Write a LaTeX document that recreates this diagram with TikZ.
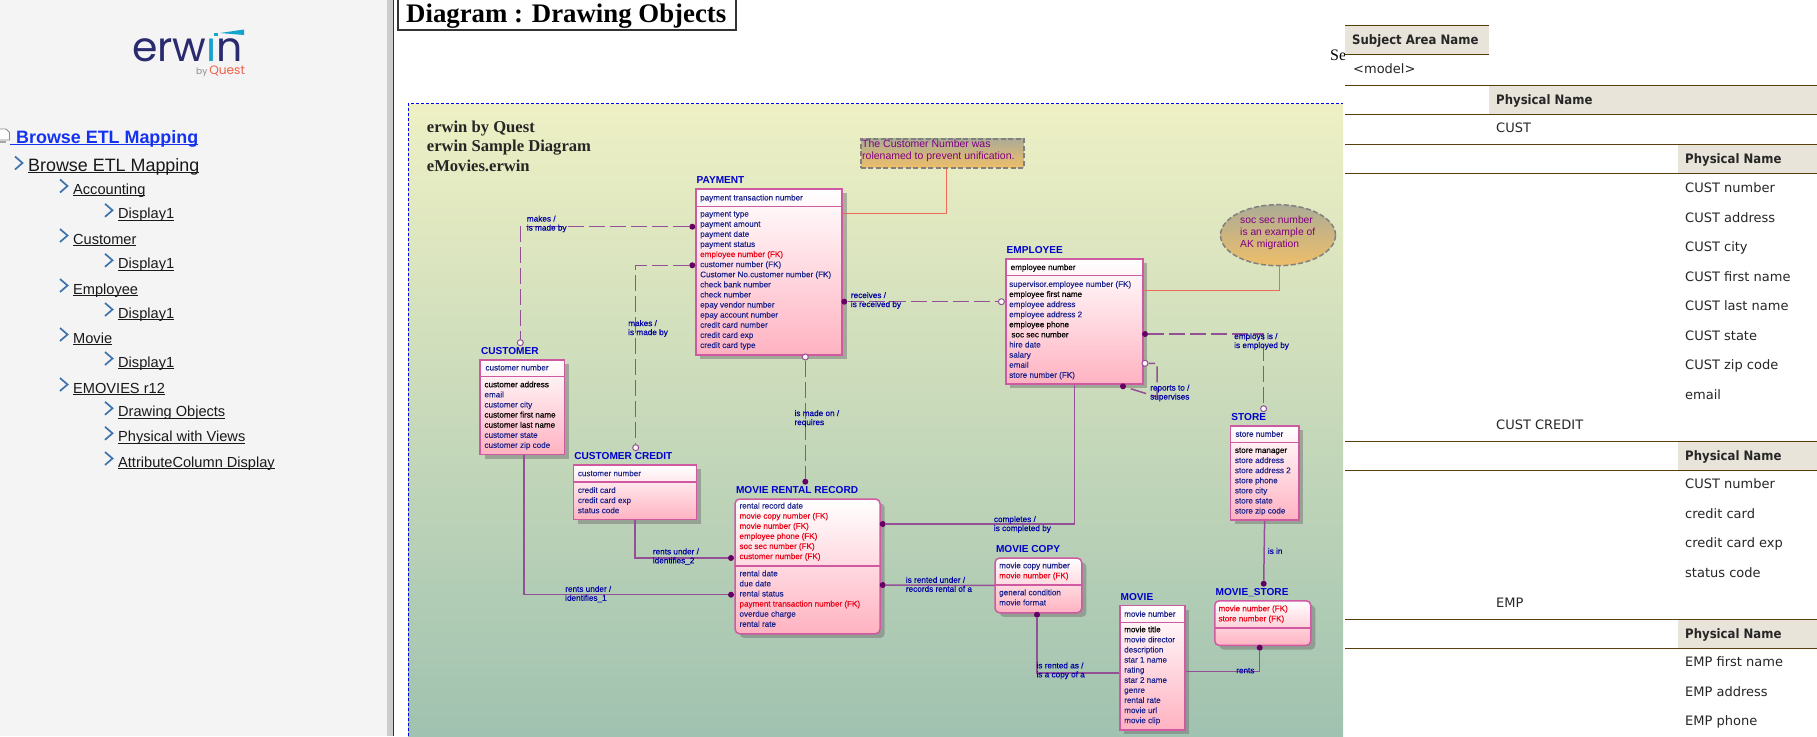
\documentclass[tikz,border=0pt]{standalone}
\usepackage{fontspec}
\usetikzlibrary{arrows.meta,positioning,shadows,shapes.geometric}
\setmainfont{Liberation Sans}
\newfontfamily\serifbold{Liberation Serif}
\newfontfamily\erfont[FakeBold=0.22]{Liberation Sans}
\newfontfamily\tablefont[BoldFeatures={FakeStretch=0.9}]{DejaVu Sans}
\newfontfamily\logofont{Poppins}
\definecolor{panelgray}{RGB}{244,244,244}
\definecolor{barGray}{RGB}{204,204,204}
\definecolor{linkblue}{RGB}{20,50,240}
\definecolor{chevblue}{RGB}{60,115,175}
\definecolor{erwinnavy}{RGB}{42,42,110}
\definecolor{erwincyan}{RGB}{20,165,205}
\definecolor{questred}{RGB}{240,95,70}
\definecolor{bgtop}{RGB}{238,240,196}
\definecolor{bgmid}{RGB}{205,220,187}
\definecolor{bgbot}{RGB}{160,194,176}
\definecolor{entline}{RGB}{208,90,162}
\definecolor{entpink}{RGB}{255,178,193}
\definecolor{relline}{RGB}{148,80,150}
\definecolor{reldot}{RGB}{100,0,100}
\definecolor{attrblue}{RGB}{25,35,140}
\definecolor{fkred}{RGB}{235,0,20}
\definecolor{titleblue}{RGB}{0,0,205}
\definecolor{labelblue}{RGB}{0,0,165}
\definecolor{noteline}{RGB}{240,105,85}
\definecolor{notetop}{RGB}{172,172,150}
\definecolor{notebot}{RGB}{238,190,105}
\definecolor{notetext}{RGB}{128,0,128}
\definecolor{headfill}{RGB}{233,228,217}
\definecolor{rulebrown}{RGB}{90,62,14}
\newcommand{\fk}[1]{\textcolor{fkred}{#1}}
\newcommand{\nk}[1]{\textcolor{black}{#1}}
\newcommand{\linktext}[1]{\setbox0\hbox{#1}\rlap{\rule[-1.7pt]{\wd0}{.9pt}}\box0}
\newcommand{\treeitem}[4]{%
  \node[treetext] (#1) at (#2,#3) {\linktext{#4}};
  \draw[chev] ([shift={(-13,-15)}]#1.base west) -- ++(7.5,6.5) -- ++(-7.5,6.5);}
\begin{document}
\begin{tikzpicture}[x=1pt,y=-1pt,
  treetext/.style={anchor=base west,inner sep=0pt,text=black!90,font=\fontsize{14.6}{17}\selectfont},
  chev/.style={draw=chevblue,line width=1.7pt},
  entity/.style={anchor=north west,draw=entline,line width=1.5pt,top color=white,bottom color=entpink,
    inner sep=0pt,drop shadow={shadow xshift=4.6pt,shadow yshift=-4.2pt,fill=black!55,opacity=.5}},
  rentity/.style={entity,rounded corners=4.5pt},
  split/.style={draw=entline,line width=1.4pt},
  etitle/.style={inner sep=0pt,text height=7.2pt,text depth=0pt,text=titleblue,font=\fontsize{10.1}{12}\selectfont\bfseries},
  attr/.style={anchor=north west,inner sep=0pt,yshift=-1.2pt,align=left,text=attrblue,execute at begin node=\strut,
    font=\erfont\fontsize{8.1}{10.1}\selectfont},
  rel/.style={draw=relline,line width=1.5pt},
  nonid/.style={rel,dash pattern=on 16pt off 5pt},
  onedot/.style={circle,fill=reldot,inner sep=0pt,minimum size=6pt},
  zerodot/.style={circle,draw=relline,fill=white!90!pink,line width=1pt,inner sep=0pt,minimum size=6pt},
  rlabel/.style={anchor=north west,inner sep=0pt,yshift=-.9pt,align=left,text=labelblue,execute at begin node=\strut,
    font=\erfont\fontsize{8.2}{9}\selectfont},
  notepen/.style={draw=noteline,line width=1.7pt},
  thead/.style={anchor=north west,fill=headfill,inner sep=0pt,minimum height=29pt},
  ttext/.style={anchor=west,inner sep=0pt,yshift=-1pt,text height=10pt,text depth=3pt,text=black!85,font=\tablefont\fontsize{13}{16}\selectfont},
  tbold/.style={ttext,font=\tablefont\fontsize{13}{16}\selectfont\bfseries},
  trule/.style={draw=rulebrown,line width=.9pt}
]
\useasboundingbox (0,0) rectangle (1817,736);
\fill[white] (0,0) rectangle (1817,736);
% left panel
\fill[panelgray] (0,0) rectangle (387,736);
\fill[barGray] (387,0) rectangle (392.5,736);
\draw[black!80,line width=1.2pt] (393.2,0) -- (393.2,736);
\node[anchor=base west,inner sep=0pt,font=\logofont\fontsize{41}{41}\selectfont] (logo) at (132,61)
  {\textcolor{erwinnavy}{erw}\textcolor{erwincyan}{\i}\textcolor{erwinnavy}{n}};
\fill[erwincyan] (213.5,32.5) rectangle (218,36);
\fill[erwincyan] (220,33) -- (244,29.5) -- (244,35) -- cycle;
\node[anchor=base west,inner sep=0pt,text=black!45,font=\logofont\fontsize{9}{9}\selectfont] (logoby) at (196,74) {by};
\node[inner sep=0pt,text=questred,font=\logofont\fontsize{12.2}{12}\selectfont,right=1.5pt of logoby.base east,anchor=base west] (logoq) {Quest};
% page icon
\draw[black!45,fill=white,line width=.8pt] (-1,129) -- (6,129) -- (9.5,132.5) -- (9.5,140) -- (-1,140) -- cycle;
\fill[black!35] (-1,140.5) rectangle (6,143);
\node[treetext,text=linkblue,font=\fontsize{17.9}{20}\selectfont\bfseries] (browsetop) at (10,143.3) {\linktext{\hspace{6pt}Browse ETL Mapping}};
\node[treetext,font=\fontsize{17.9}{20}\selectfont] (browse) at (28,171.3) {\linktext{Browse ETL Mapping}};
\draw[chev] (15,156.5) -- ++(7.5,6.5) -- ++(-7.5,6.5);
\treeitem{acct}{73}{194.5}{Accounting}
\treeitem{acctd}{118}{218.8}{Display1}
\treeitem{cust}{73}{244}{Customer}
\treeitem{custd}{118}{268.8}{Display1}
\treeitem{empl}{73}{294}{Employee}
\treeitem{empld}{118}{318}{Display1}
\treeitem{movi}{73}{343}{Movie}
\treeitem{movid}{118}{367}{Display1}
\treeitem{emov}{73}{393}{EMOVIES r12}
\treeitem{draw}{118}{416.8}{Drawing Objects}
\treeitem{phys}{118}{441.8}{Physical with Views}
\treeitem{attrc}{118}{467}{AttributeColumn Display}
% heading
\node[anchor=north west,draw=black!80,fill=white,line width=1.6pt,inner sep=0pt,minimum width=338pt,minimum height=32pt] (heading) at (397,-3) {};
\node[anchor=base west,inner sep=0pt,font=\serifbold\fontsize{26.8}{30}\selectfont\bfseries] (headingt) at (406,22.5) {Diagram : Drawing Objects};
% diagram ground
\shade[top color=bgtop,middle color=bgmid,bottom color=bgbot] (408,104) rectangle (1343,736);
\draw[blue,line width=.9pt,dash pattern=on 3pt off 2pt] (408,736) -- (408,103.6) -- (1343,103.6);
\node[anchor=north west,inner sep=0pt,align=left,text=black!85,font=\serifbold\fontsize{16.6}{19.7}\selectfont\bfseries] (caption) at (426.7,120.5)
  {erwin by Quest\\erwin Sample Diagram\\eMovies.erwin};
\node[anchor=base west,inner sep=0pt,font=\serifbold\fontsize{16}{18}\selectfont] (se) at (1330,60) {Se};
% entities
\node[entity,minimum width=146.4pt,minimum height=165.7pt] (payment) at (695,188.3) {};
\draw[split] (payment.west |- 0,206.7) -- (payment.east |- 0,206.7);
\node[etitle,above right=4.2pt and 1.5pt of payment.north west] (paymentT) {PAYMENT};
\node[attr] (paymentK) at (700,192) {payment transaction number};
\node[attr] (paymentA) at (700,210) {payment type\\payment amount\\payment date\\payment status\\\fk{employee number (FK)}\\customer number (FK)\\Customer No.customer number (FK)\\check bank number\\check number\\epay vendor number\\epay account number\\credit card number\\credit card exp\\credit card type};
\node[entity,minimum width=137pt,minimum height=125pt] (employee) at (1005,258.3) {};
\draw[split] (employee.west |- 0,275.3) -- (employee.east |- 0,275.3);
\node[etitle,above right=4.2pt and 1.5pt of employee.north west] (employeeT) {EMPLOYEE};
\node[attr] (employeeK) at (1010.5,261.6) {\nk{employee number}};
\node[attr] (employeeA) at (1009,279.6) {supervisor.employee number (FK)\\\nk{employee first name}\\employee address\\employee address 2\\\nk{employee phone}\\\nk{\ soc sec number}\\hire date\\salary\\email\\store number (FK)};
\node[entity,minimum width=84.4pt,minimum height=94.7pt] (customer) at (479.3,359) {};
\draw[split] (customer.west |- 0,376.7) -- (customer.east |- 0,376.7);
\node[etitle,above right=4.2pt and 1.5pt of customer.north west] (customerT) {CUSTOMER};
\node[attr] (customerK) at (485.3,362) {customer number};
\node[attr] (customerA) at (484.3,380) {\nk{customer address}\\email\\customer city\\\nk{customer first name}\\\nk{customer last name}\\customer state\\customer zip code};
\node[entity,minimum width=123pt,minimum height=54.7pt] (credit) at (572.7,464) {};
\draw[split] (credit.west |- 0,482) -- (credit.east |- 0,482);
\node[etitle,above right=4.2pt and 1.5pt of credit.north west] (creditT) {CUSTOMER CREDIT};
\node[attr] (creditK) at (577.7,467.7) {customer number};
\node[attr] (creditA) at (577.7,485.7) {credit card\\credit card exp\\status code};
\node[rentity,minimum width=145pt,minimum height=134.7pt] (rental) at (734.3,498.3) {};
\draw[split] (rental.west |- 0,566) -- (rental.east |- 0,566);
\node[etitle,above right=4.2pt and 1.5pt of rental.north west] (rentalT) {MOVIE RENTAL RECORD};
\node[attr] (rentalK) at (739.3,501.3) {rental record date\\\fk{movie copy number (FK)}\\\fk{movie number (FK)}\\\fk{employee phone (FK)}\\\fk{soc sec number (FK)}\\\fk{customer number (FK)}};
\node[attr] (rentalA) at (739.3,569) {rental date\\due date\\rental status\\\fk{payment transaction number (FK)}\\overdue charge\\rental rate};
\node[rentity,minimum width=86.7pt,minimum height=54.7pt] (copy) at (994.3,557.3) {};
\draw[split] (copy.west |- 0,585) -- (copy.east |- 0,585);
\node[etitle,above right=4.2pt and 1.5pt of copy.north west] (copyT) {MOVIE COPY};
\node[attr] (copyK) at (999,561) {movie copy number\\\fk{movie number (FK)}};
\node[attr] (copyA) at (999,588) {general condition\\movie format};
\node[entity,minimum width=65pt,minimum height=124.6pt] (movie) at (1119,604.7) {};
\draw[split] (movie.west |- 0,622.3) -- (movie.east |- 0,622.3);
\node[etitle,above right=4.2pt and 1.5pt of movie.north west] (movieT) {MOVIE};
\node[attr] (movieK) at (1124,608.3) {movie number};
\node[attr] (movieA) at (1124,625) {\nk{movie title}\\movie director\\description\\star 1 name\\rating\\star 2 name\\genre\\rental rate\\movie url\\movie clip};
\node[entity,minimum width=68.3pt,minimum height=94.3pt] (store) at (1229.7,425) {};
\draw[split] (store.west |- 0,442.7) -- (store.east |- 0,442.7);
\node[etitle,above right=4.2pt and 1.5pt of store.north west] (storeT) {STORE};
\node[attr] (storeK) at (1235.3,428.3) {store number};
\node[attr] (storeA) at (1234.7,446.3) {\nk{store manager}\\store address\\store address 2\\store phone\\store city\\store state\\store zip code};
\node[rentity,minimum width=96pt,minimum height=44.7pt] (mstore) at (1214,600) {};
\draw[split] (mstore.west |- 0,628) -- (mstore.east |- 0,628);
\node[etitle,above right=4.2pt and 1.5pt of mstore.north west] (mstoreT) {MOVIE\_STORE};
\node[attr] (mstoreK) at (1218.3,604) {\fk{movie number (FK)}\\\fk{store number (FK)}};
% notes
\node[anchor=north west,draw=black!50,dash pattern=on 5pt off 2.5pt,line width=1.5pt,top color=notetop,bottom color=notebot,inner sep=0pt,minimum width=163pt,minimum height=29pt] (custnote) at (860,138) {};
\node[anchor=north west,inner sep=0pt,align=left,text=notetext,execute at begin node=\strut,font=\fontsize{10.5}{11.7}\selectfont] (custnoteT) at (862,139.7) {The Customer Number was\\rolenamed to prevent unification.};
\node[ellipse,draw=black!50,dash pattern=on 5pt off 2.5pt,line width=1.5pt,top color=notetop,bottom color=notebot,inner sep=0pt,minimum width=115pt,minimum height=61pt] (ssnnote) at (1278,235.2) {};
\node[anchor=north west,inner sep=0pt,align=left,text=notetext,execute at begin node=\strut,font=\fontsize{10.3}{11.8}\selectfont] (ssnnoteT) at (1240,216) {soc sec number\\is an example of\\AK migration};
\draw[notepen] ([xshift=4.2pt]custnote.south) |- ([yshift=58.3pt]payment.east);
\draw[notepen] ([xshift=1.6pt]ssnnote.south) |- ([yshift=31.1pt]employee.east);
% relationship ends
\node[onedot] (payA) at (692.3,226.7) {};
\node[zerodot] (custTop) at (520.3,342.7) {};
\node[onedot] (payB) at (692.3,265.3) {};
\node[zerodot] (creditTop) at (635.7,447.7) {};
\node[zerodot] (payC) at (805.3,357) {};
\node[onedot] (rentalTop) at (805.3,481.7) {};
\node[onedot] (payD) at (844.3,301.7) {};
\node[zerodot] (emplW) at (1001.4,301.7) {};
\node[onedot] (emplA) at (1145,334) {};
\node[zerodot] (storeTop) at (1263.6,408.7) {};
\node[zerodot] (emplB) at (1145,363.3) {};
\node[onedot] (emplC) at (1123,386.3) {};
\node[onedot] (rentalA1) at (882.7,524) {};
\node[onedot] (rentalA2) at (882.7,585) {};
\node[onedot] (rentalW1) at (731,558) {};
\node[onedot] (rentalW2) at (731,594.7) {};
\node[onedot] (copyS) at (1037,614.7) {};
\node[onedot] (mstoreS) at (1259.7,647.7) {};
\node[onedot] (mstoreN) at (1263.7,583.7) {};
\coordinate (selfA) at (1157,397);
% relationships
\draw[nonid] (payA) -| (custTop);
\draw[nonid] (payB) -| (creditTop);
\draw[nonid] (payC) -- (rentalTop);
\draw[nonid] (payD) -- (emplW);
\draw[nonid] (emplA) -| (storeTop);
\draw[nonid,dash phase=16pt] (emplC) -- (selfA) |- (emplB);
\draw[rel] ([xshift=1.5pt]customer.south) |- (rentalW2);
\draw[rel] (credit.south) |- (rentalW1);
\draw[rel] (employee.south) |- (rentalA1);
\draw[rel] (rentalA2) -- (copy.west);
\draw[rel] (copyS) |- ([yshift=-5pt]movie.west);
\draw[rel] ([yshift=-3.7pt]movie.east) -| (mstoreS);
\draw[rel] (store.south) -- (mstoreN);
% relationship labels
\node[rlabel] at (526.7,214.5) (labA) {makes /\\is made by};
\node[rlabel] at (628,319) (labB) {makes /\\is made by};
\node[rlabel] at (794.3,409) (labC) {is made on /\\requires};
\node[rlabel] at (850.7,291) (labD) {receives /\\is received by};
\node[rlabel] at (1234,332) (labE) {employs is /\\is employed by};
\node[rlabel] at (1150,383.5) (labF) {reports to /\\supervises};
\node[rlabel] at (993.7,515) (labG) {completes /\\is completed by};
\node[rlabel] at (905.7,575.7) (labH) {is rented under /\\records rental of a};
\node[rlabel] at (652.7,547.3) (labI) {rents under /\\identifies\_2};
\node[rlabel] at (565,584.7) (labJ) {rents under /\\identifies\_1};
\node[rlabel] at (1036.3,661.3) (labK) {is rented as /\\is a copy of a};
\node[rlabel] at (1236,665.8) (labL) {rents};
\node[rlabel] at (1267.7,546.5) (labM) {is in};
% table
\fill[white] (1345,0) rectangle (1817,736);
\node[thead,minimum width=144pt] (subjH) at (1345,25) {};
\node[tbold,right=7pt of subjH.west] (subjHT) {Subject Area Name};
\draw[trule] (subjH.north west) -- (subjH.north east);
\draw[trule] (subjH.south west) -- (subjH.south east);
\node[ttext] (model) at (1353,69) {<model>};
\node[thead,minimum width=328pt] (physA) at (1489,85) {};
\node[tbold,right=7pt of physA.west] (physAT) {Physical Name};
\draw[trule] (subjH.west |- physA.north) -- (physA.north east);
\draw[trule] (subjH.west |- physA.south) -- (physA.south east);
\node[ttext] (custR) at (1496,128) {CUST};
\node[thead,minimum width=139pt] (physB) at (1678,144.3) {};
\node[tbold,right=7pt of physB.west] (physBT) {Physical Name};
\draw[trule] (subjH.west |- physB.north) -- (physB.north east);
\draw[trule] (subjH.west |- physB.south) -- (physB.south east);
\node[ttext] (c1) at (1685,188) {CUST number};
\node[ttext] (c2) at (1685,218) {CUST address};
\node[ttext] (c3) at (1685,247) {CUST city};
\node[ttext] (c4) at (1685,277) {CUST first name};
\node[ttext] (c5) at (1685,306) {CUST last name};
\node[ttext] (c6) at (1685,336) {CUST state};
\node[ttext] (c7) at (1685,365) {CUST zip code};
\node[ttext] (c8) at (1685,395) {email};
\node[ttext] (custC) at (1496,425) {CUST CREDIT};
\node[thead,minimum width=139pt] (physC) at (1678,441.3) {};
\node[tbold,right=7pt of physC.west] (physCT) {Physical Name};
\draw[trule] (subjH.west |- physC.north) -- (physC.north east);
\draw[trule] (subjH.west |- physC.south) -- (physC.south east);
\node[ttext] (d1) at (1685,484) {CUST number};
\node[ttext] (d2) at (1685,514) {credit card};
\node[ttext] (d3) at (1685,543) {credit card exp};
\node[ttext] (d4) at (1685,573) {status code};
\node[ttext] (empR) at (1496,603) {EMP};
\node[thead,minimum width=139pt] (physD) at (1678,619.3) {};
\node[tbold,right=7pt of physD.west] (physDT) {Physical Name};
\draw[trule] (subjH.west |- physD.north) -- (physD.north east);
\draw[trule] (subjH.west |- physD.south) -- (physD.south east);
\node[ttext] (e1) at (1685,662) {EMP first name};
\node[ttext] (e2) at (1685,692) {EMP address};
\node[ttext] (e3) at (1685,721) {EMP phone};
\end{tikzpicture}
\end{document}
